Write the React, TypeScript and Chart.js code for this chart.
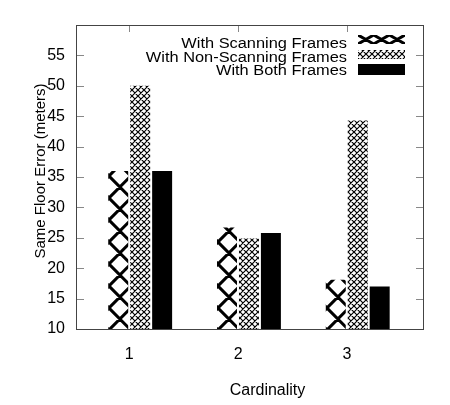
import React, { useEffect, useRef } from 'react';
import { Chart, registerables } from 'chart.js';

Chart.register(...registerables);

// ---- data ----
const categories = ['1', '2', '3'];
const seriesNames = ['With Scanning Frames', 'With Non-Scanning Frames', 'With Both Frames'];
const scanning = [36, 26.7, 18.1];
const nonScanning = [50, 24.9, 44.3];
const both = [36, 25.8, 17];
const yMin = 10;
const yMax = 60;
const yStep = 5;
const xTitle = 'Cardinality';
const yTitle = 'Same Floor Error (meters)';

// ---- style constants ----
const FONT = '"Liberation Sans", Arial, Helvetica, sans-serif';
const GROUP_SHIFT = 0.1;
const FRAME = '#444';
const TICK = '#888';

function makeCrossPattern(w: number, h: number, cellsX: number, cellsY: number, lw: number) {
  const c = document.createElement('canvas');
  c.width = w;
  c.height = h;
  const g = c.getContext('2d')!;
  g.fillStyle = '#fff';
  g.fillRect(0, 0, w, h);
  g.strokeStyle = '#000';
  g.lineWidth = lw;
  g.lineCap = 'butt';
  const cw = w / cellsX;
  const ch = h / cellsY;
  g.beginPath();
  for (let i = -1; i <= cellsX; i++) {
    for (let j = -1; j <= cellsY; j++) {
      const x = i * cw;
      const y = j * ch;
      g.moveTo(x, y);
      g.lineTo(x + cw, y + ch);
      g.moveTo(x + cw, y);
      g.lineTo(x, y + ch);
    }
  }
  g.stroke();
  return g.createPattern(c, 'repeat')!;
}

export default function App() {
  const ref = useRef<HTMLCanvasElement | null>(null);

  useEffect(() => {
    const canvas = ref.current!;
    const bigX = makeCrossPattern(109, 22, 5, 1, 3);
    const fineX = makeCrossPattern(6, 6, 1, 1, 1.2);
    const fills: (string | CanvasPattern)[] = [bigX, fineX, '#000'];
    const seriesValues = [scanning, nonScanning, both];

    const decor = {
      id: 'decor',
      afterDraw(chart: any) {
        const { ctx, chartArea: a, scales } = chart;
        const L = a.left, R = a.right, T = a.top, B = a.bottom;
        ctx.save();
        // inward tick marks
        ctx.strokeStyle = TICK;
        ctx.lineWidth = 1;
        ctx.beginPath();
        scales.y.ticks.forEach((t: any) => {
          if (t.value <= yMin || t.value >= yMax) return;
          const py = Math.round(scales.y.getPixelForValue(t.value)) + 0.5;
          ctx.moveTo(L, py);
          ctx.lineTo(L + 8, py);
          ctx.moveTo(R, py);
          ctx.lineTo(R - 7, py);
        });
        scales.x.ticks.forEach((t: any) => {
          const px = Math.round(scales.x.getPixelForValue(t.value)) + 0.5;
          ctx.moveTo(px, T);
          ctx.lineTo(px, T + 7);
        });
        ctx.stroke();
        // frame
        ctx.strokeStyle = FRAME;
        ctx.strokeRect(Math.round(L) + 0.5, Math.round(T) + 0.5, Math.round(R - L), Math.round(B - T));

        ctx.fillStyle = '#000';
        // y title
        ctx.save();
        ctx.translate(45, 171);
        ctx.rotate(-Math.PI / 2);
        ctx.font = `15px ${FONT}`;
        ctx.textAlign = 'center';
        ctx.textBaseline = 'alphabetic';
        ctx.fillText(yTitle, 0, 0);
        ctx.restore();
        // x title
        ctx.font = `16px ${FONT}`;
        ctx.textAlign = 'center';
        ctx.textBaseline = 'alphabetic';
        ctx.fillText(xTitle, 267.5, 395);

        // legend
        const textRight = 347;
        const baselines = [48, 61.5, 75];
        const boxX = 358, boxW = 47, boxH = 11;
        const boxTops = [35, 50, 64];
        seriesNames.forEach((name, k) => {
          ctx.save();
          ctx.translate(textRight, baselines[k]);
          ctx.scale(1.17, 1);
          ctx.font = `14px ${FONT}`;
          ctx.textAlign = 'right';
          ctx.fillStyle = '#000';
          ctx.fillText(name, 0, 0);
          ctx.restore();
          const by = boxTops[k];
          if (k === 0) {
            ctx.save();
            ctx.beginPath();
            ctx.rect(boxX, by, boxW, boxH - 2);
            ctx.clip();
            ctx.strokeStyle = '#000';
            ctx.lineWidth = 3;
            ctx.beginPath();
            const cw = boxW / 3;
            for (let i = 0; i < 3; i++) {
              const x0 = boxX + i * cw;
              ctx.moveTo(x0, by);
              ctx.lineTo(x0 + cw, by + boxH - 2);
              ctx.moveTo(x0 + cw, by);
              ctx.lineTo(x0, by + boxH - 2);
            }
            ctx.stroke();
            ctx.restore();
          } else {
            ctx.fillStyle = fills[k];
            ctx.fillRect(boxX, by, boxW, k === 1 ? boxH - 2 : boxH);
          }
        });
        ctx.restore();
      },
    };

    const chart = new Chart(canvas, {
      type: 'bar',
      data: {
        datasets: seriesNames.map((name, k) => ({
          label: name,
          data: categories.map((c, i) => ({ x: Number(c) + GROUP_SHIFT, y: seriesValues[k][i] })),
          backgroundColor: fills[k] as any,
          borderWidth: 0,
          categoryPercentage: 0.6055,
          barPercentage: 0.91,
        })),
      },
      options: {
        animation: false,
        responsive: false,
        devicePixelRatio: 1,
        layout: { padding: { left: 0, right: 27, top: 25, bottom: 0 } },
        plugins: { legend: { display: false }, tooltip: { enabled: false } },
        scales: {
          x: {
            type: 'linear',
            offset: false,
            min: 0.51,
            max: 3.7,
            grid: { display: false, drawTicks: false, offset: false },
            border: { display: false },
            ticks: {
              stepSize: 1,
              includeBounds: false,
              padding: 16,
              color: '#000',
              font: { family: FONT, size: 16 },
              callback: (v: any) => (Number.isInteger(v) ? String(v) : ''),
            },
            afterFit: (s: any) => {
              s.height = 76;
            },
          },
          y: {
            type: 'linear',
            min: yMin,
            max: yMax,
            grid: { display: false, drawTicks: false },
            border: { display: false },
            ticks: {
              stepSize: yStep,
              padding: 11,
              color: '#000',
              font: { family: FONT, size: 16 },
              callback: (v: any) => (v >= yMax ? '' : String(v)),
            },
            afterFit: (s: any) => {
              s.width = 76;
            },
          },
        },
      },
      plugins: [decor],
    } as any);

    return () => chart.destroy();
  }, []);

  return (
    <div style={{ position: 'absolute', left: 0, top: 0, width: 450, height: 405, background: '#fff' }}>
      <canvas ref={ref} width={450} height={405} style={{ width: 450, height: 405, display: 'block' }} />
    </div>
  );
}
